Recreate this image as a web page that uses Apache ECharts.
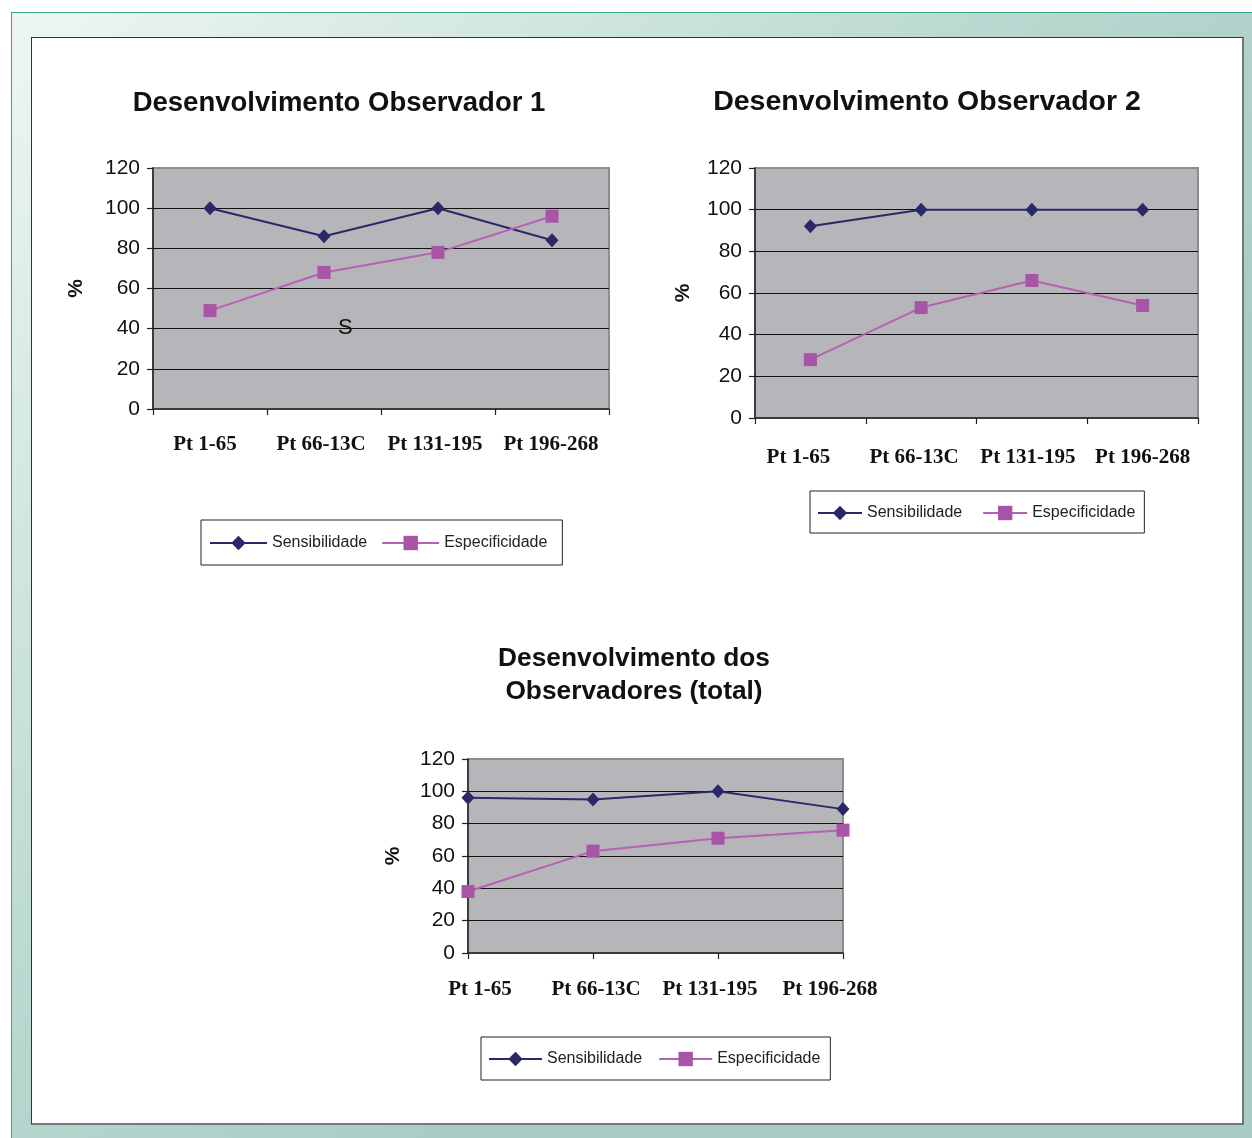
<!DOCTYPE html>
<html>
<head>
<meta charset="utf-8">
<script src="https://cdn.jsdelivr.net/npm/echarts@6/dist/echarts.min.js"></script>
<style>
  html, body { margin: 0; padding: 0; background: #ffffff; }
  #frame {
    position: absolute; left: 11px; top: 12px; width: 1241px; height: 1126px;
    border-top: 1.5px solid #3aa58f; border-left: 1.5px solid #3aa58f;
    background: linear-gradient(135deg, #eef6f3 0%, #d2e7e1 22%, #b6d6ce 45%, #a9cdc5 65%, #a9cdc5 100%);
  }
  #panel {
    position: absolute; left: 31px; top: 37px; width: 1210px; height: 1085px;
    background: #ffffff;
    border-top: 1px solid #333; border-left: 1px solid #333;
    border-right: 2px solid #777; border-bottom: 2px solid #777;
  }
  #chart { position: absolute; left: 0; top: 0; width: 1252px; height: 1138px; }
</style>
</head>
<body>
<div id="frame"></div>
<div id="panel"></div>
<div id="chart"></div>
<script>
// Categories and values for the three panels
const categories = ['Pt 1-65', 'Pt 66-13C', 'Pt 131-195', 'Pt 196-268'];
const obs1Sens = [100, 86, 100, 84];
const obs1Spec = [49, 68, 78, 96];
const obs2Sens = [92, 100, 100, 100];
const obs2Spec = [28, 53, 66, 54];
const totalSens = [96, 95, 100, 89];
const totalSpec = [38, 63, 71, 76];
const yMin = 0, yMax = 120, yStep = 20;
const seriesNames = ['Sensibilidade', 'Especificidade'];

const SENS_COLOR = '#2b2868';
const SPEC_LINE = '#b463b3';
const SPEC_MARK = '#a855a7';

const chart = echarts.init(document.getElementById('chart'), null, { renderer: 'canvas' });

const grids = [
  { left: 153, top: 168, width: 456, height: 241 },
  { left: 755, top: 168, width: 443, height: 250 },
  { left: 468, top: 759, width: 375, height: 194 }
];

const xLabelFont = { color: '#111', fontFamily: 'Liberation Serif', fontWeight: 'bold', fontSize: 21 };

// Category axis; `shifts` nudges each label sideways (px, + = right)
function xAxis(i, gap, margin, shifts) {
  const rich = {};
  shifts.forEach((s, k) => {
    rich['l' + k] = Object.assign({
      padding: s >= 0 ? [0, 0, 0, 2 * s] : [0, -2 * s, 0, 0]
    }, xLabelFont);
  });
  return {
    type: 'category', gridIndex: i, data: categories, boundaryGap: gap,
    axisLine: { lineStyle: { color: '#222', width: 1.5 } },
    axisTick: { show: true, interval: 0, length: 6, alignWithLabel: !gap, lineStyle: { color: '#222', width: 1.2 } },
    axisLabel: Object.assign({
      margin: margin, interval: 0, rich: rich,
      formatter: (v, idx) => '{l' + idx + '|' + v + '}'
    }, xLabelFont),
    splitLine: { show: false }
  };
}
function yAxis(i, gap) {
  return {
    type: 'value', gridIndex: i, min: yMin, max: yMax, interval: yStep,
    name: '%', nameLocation: 'middle', nameRotate: 90, nameGap: gap,
    nameTextStyle: { fontFamily: 'Liberation Sans', fontWeight: 'bold', fontSize: 21, color: '#111' },
    axisLine: { show: true, lineStyle: { color: '#222', width: 1.5 } },
    axisTick: { show: true, length: 6, lineStyle: { color: '#222', width: 1.2 } },
    axisLabel: { margin: 13, color: '#111', fontFamily: 'Liberation Sans', fontSize: 21 },
    splitLine: { show: true, showMinLine: false, showMaxLine: false, lineStyle: { color: '#111', width: 1 } }
  };
}
function sens(i, data) {
  return {
    name: seriesNames[0], type: 'line', xAxisIndex: i, yAxisIndex: i, data: data,
    symbol: 'diamond', symbolSize: [13, 14], showAllSymbol: true,
    lineStyle: { color: SENS_COLOR, width: 2 }, itemStyle: { color: SENS_COLOR },
    emphasis: { disabled: true }, animation: false, z: 3
  };
}
function spec(i, data) {
  return {
    name: seriesNames[1], type: 'line', xAxisIndex: i, yAxisIndex: i, data: data,
    symbol: 'rect', symbolSize: 13, showAllSymbol: true,
    lineStyle: { color: SPEC_LINE, width: 2 }, itemStyle: { color: SPEC_MARK },
    emphasis: { disabled: true }, animation: false, z: 3
  };
}
function legend(left, top, itemWidth, itemGap, padding) {
  return {
    left: left, top: top, data: seriesNames, orient: 'horizontal',
    itemWidth: itemWidth, itemHeight: 18, itemGap: itemGap,
    padding: padding, borderColor: '#222', borderWidth: 1, backgroundColor: '#fff',
    textStyle: { fontFamily: 'Liberation Sans', fontSize: 16, color: '#222' },
    selectedMode: false
  };
}

const titleStyle = { fontFamily: 'Liberation Sans', fontWeight: 'bold', fontSize: 27.5, color: '#111', lineHeight: 33 };

chart.setOption({
  animation: false,
  title: [
    { text: 'Desenvolvimento Observador 1', left: 334, top: 82, textAlign: 'center', textStyle: titleStyle },
    { text: 'Desenvolvimento Observador 2', left: 922, top: 81, textAlign: 'center',
      textStyle: Object.assign({}, titleStyle, { fontSize: 28.5 }) },
    { text: 'Desenvolvimento dos\nObservadores (total)', left: 629, top: 637, textAlign: 'center',
      textStyle: Object.assign({}, titleStyle, { fontSize: 26.3 }) }
  ],
  grid: grids.map(g => Object.assign({
    show: true, backgroundColor: '#b6b6ba', borderColor: '#8c8c8c', borderWidth: 2, containLabel: false
  }, g)),
  xAxis: [
    xAxis(0, true, 25, [-5, -3, -3, -1]),
    xAxis(1, true, 29, [-12, -7, -4, 0]),
    xAxis(2, false, 26, [12, 3, -8, -13])
  ],
  yAxis: [yAxis(0, 66), yAxis(1, 61), yAxis(2, 64)],
  legend: [
    legend(201, 520, 57, 14, [15, 15, 14, 8]),
    legend(810, 491, 44, 20, [14, 9, 12, 7]),
    legend(481, 1037, 53, 16, [14, 10, 13, 7])
  ],
  series: [
    sens(0, obs1Sens), spec(0, obs1Spec),
    sens(1, obs2Sens), spec(1, obs2Spec),
    sens(2, totalSens), spec(2, totalSpec)
  ],
  graphic: [
    { type: 'text', left: 338, top: 317, z: 10,
      style: { text: 'S', fontFamily: 'Liberation Sans', fontSize: 22, fill: '#111' } }
  ]
});
</script>
</body>
</html>
